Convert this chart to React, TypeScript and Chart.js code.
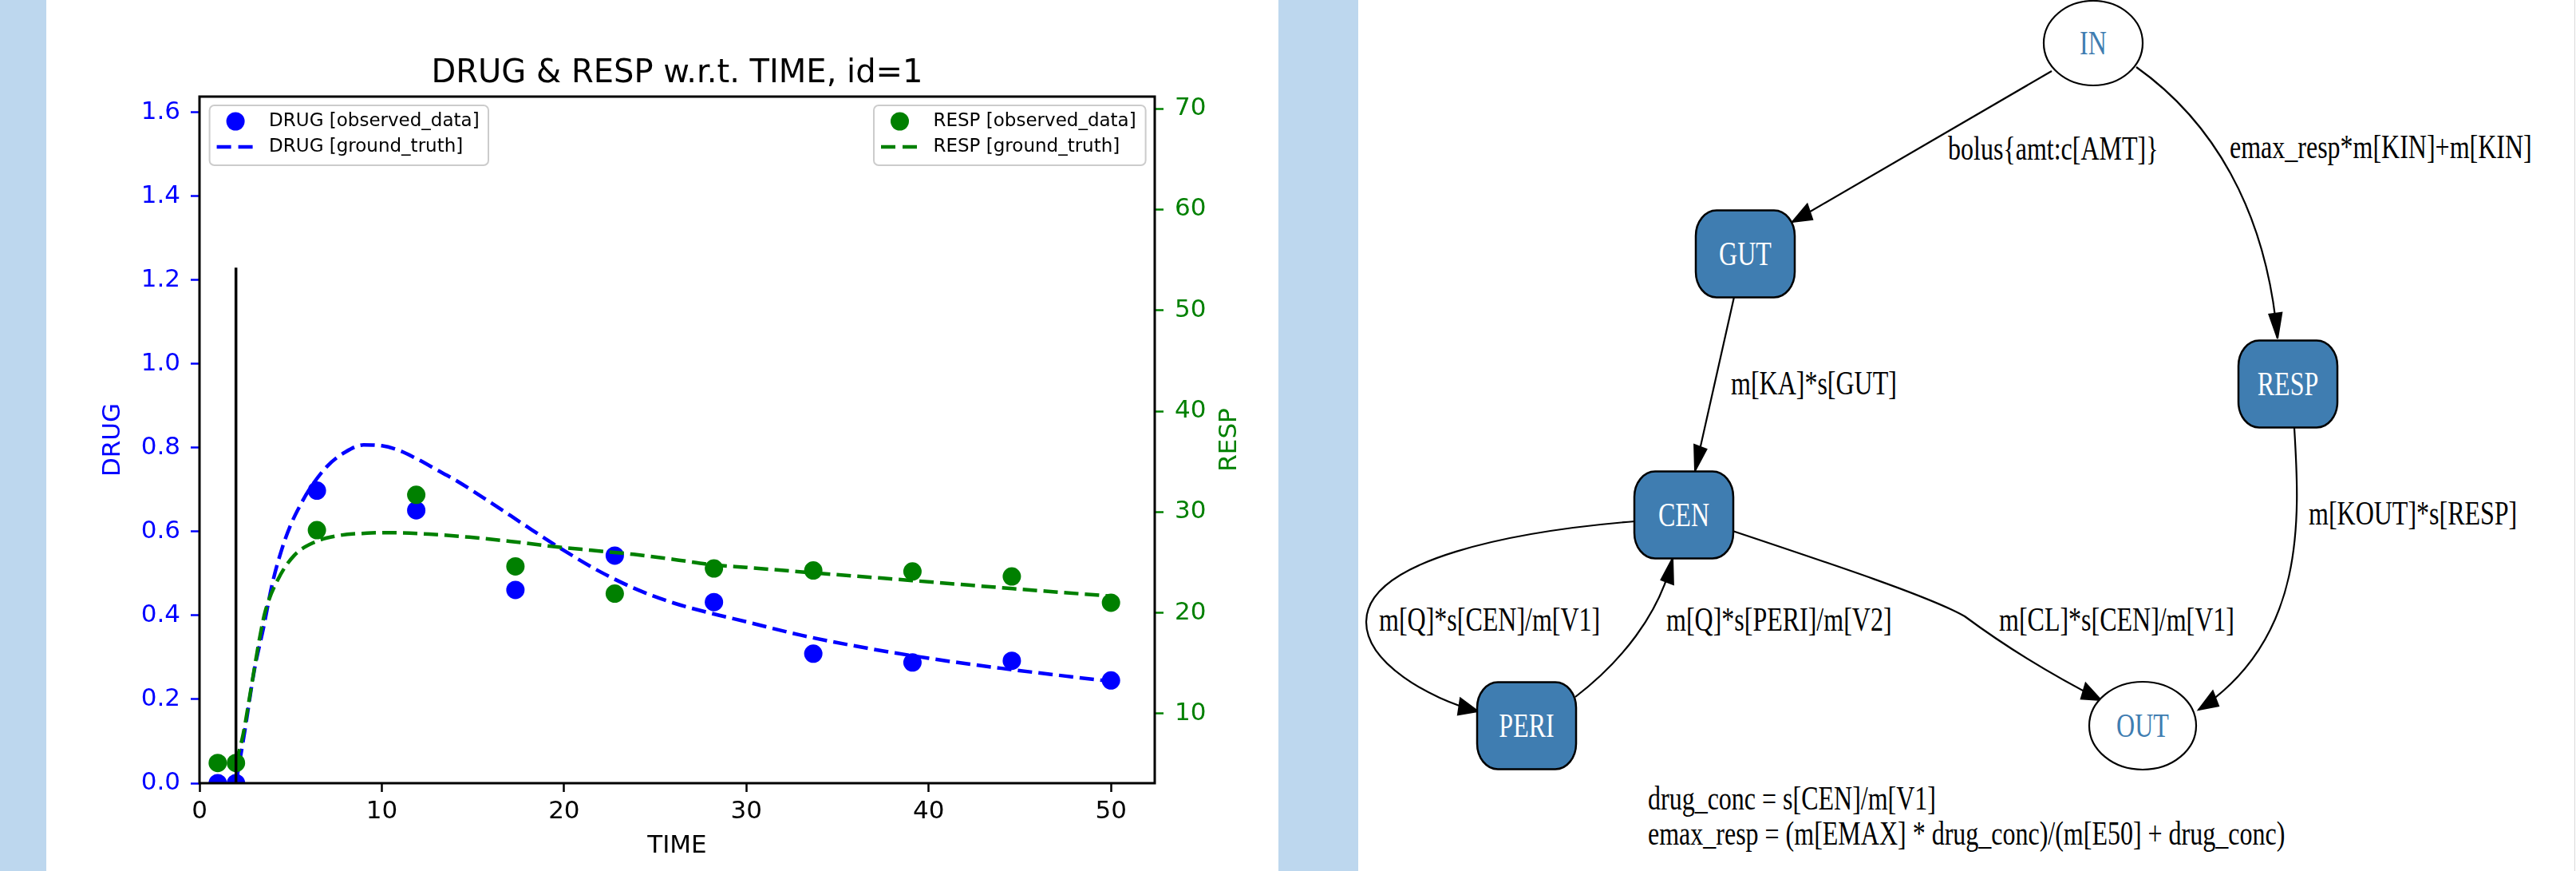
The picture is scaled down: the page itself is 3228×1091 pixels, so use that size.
import React, { useEffect, useRef } from 'react';
import { Chart, registerables } from 'chart.js';

Chart.register(...registerables);

// ---------------- chart data ----------------
const TITLE = 'DRUG & RESP w.r.t. TIME, id=1';
const X_LABEL = 'TIME';
const Y_LABEL = 'DRUG';
const Y2_LABEL = 'RESP';

const timeObs = [1, 2, 6.44, 11.89, 17.33, 22.78, 28.22, 33.67, 39.11, 44.56, 50];
const drugObs = [0.0, 0.0, 0.698, 0.651, 0.461, 0.543, 0.432, 0.309, 0.288, 0.292, 0.245];
const respObs = [5.1, 5.1, 28.2, 31.7, 24.6, 21.9, 24.4, 24.2, 24.1, 23.6, 21.0];

const drugTime = [2, 2.5, 3, 3.5, 4, 4.5, 5, 5.5, 6, 7, 8, 9, 10, 11, 12, 13, 14, 16, 18, 20, 22, 24, 26, 28, 30, 33, 36, 40, 44, 48, 50];
const drugTruth = [0, 0.129, 0.268, 0.369, 0.477, 0.556, 0.616, 0.661, 0.699, 0.756, 0.79, 0.807, 0.805, 0.793, 0.772, 0.748, 0.724, 0.669, 0.611, 0.555, 0.504, 0.462, 0.43, 0.406, 0.385, 0.353, 0.327, 0.298, 0.274, 0.253, 0.243];

const respTime = [2, 2.4, 2.8, 3.3, 3.6, 4.3, 5.2, 6.3, 7.6, 9.2, 10.3, 12.6, 14.8, 17, 19.3, 21.5, 23.8, 26, 28.2, 30, 33.7, 39.1, 44.6, 50];
const respTruth = [5.1, 8.0, 12.2, 17.5, 20.1, 23.3, 25.7, 27.0, 27.65, 27.9, 27.95, 27.8, 27.5, 27.1, 26.6, 26.2, 25.8, 25.3, 24.75, 24.5, 23.96, 23.2, 22.4, 21.65];

const doseTime = [2, 2];
const doseLevel = [0, 1.23];

const legendDrug = ['DRUG [observed_data]', 'DRUG [ground_truth]'];
const legendResp = ['RESP [observed_data]', 'RESP [ground_truth]'];

// ---------------- diagram data ----------------
const nodeLabels = ['IN', 'GUT', 'RESP', 'CEN', 'PERI', 'OUT'];
const edgeLabels = [
  'bolus{amt:c[AMT]}',
  'emax_resp*m[KIN]+m[KIN]',
  'm[KA]*s[GUT]',
  'm[KOUT]*s[RESP]',
  'm[Q]*s[CEN]/m[V1]',
  'm[Q]*s[PERI]/m[V2]',
  'm[CL]*s[CEN]/m[V1]',
];
const noteLines = [
  'drug_conc = s[CEN]/m[V1]',
  'emax_resp = (m[EMAX] * drug_conc)/(m[E50] + drug_conc)',
];

const BAND = '#bdd7ee';
const NODE_FILL = '#3f7db1';
const SY = 1.31;
const FONT = "'DejaVu Sans'";

function zip(xs: number[], ys: number[]) {
  return xs.map((x, i) => ({ x, y: ys[i] }));
}

function drawLegend(ctx: CanvasRenderingContext2D, x0: number, y0: number, w: number, h: number, color: string, labels: string[]) {
  ctx.save();
  ctx.beginPath();
  (ctx as any).roundRect(x0, y0, w, h, 6);
  ctx.fillStyle = 'rgba(255,255,255,0.8)';
  ctx.fill();
  ctx.strokeStyle = '#cccccc';
  ctx.lineWidth = 2;
  ctx.stroke();
  ctx.fillStyle = color;
  ctx.beginPath();
  ctx.arc(x0 + 32.5, y0 + 20, 11.5, 0, Math.PI * 2);
  ctx.fill();
  ctx.strokeStyle = color;
  ctx.lineWidth = 4.5;
  ctx.setLineDash([18, 9]);
  ctx.beginPath();
  ctx.moveTo(x0 + 9, y0 + 52);
  ctx.lineTo(x0 + 55, y0 + 52);
  ctx.stroke();
  ctx.setLineDash([]);
  ctx.fillStyle = '#000';
  ctx.font = `23px ${FONT}`;
  ctx.textAlign = 'left';
  ctx.textBaseline = 'middle';
  ctx.fillText(labels[0], x0 + 74.5, y0 + 20);
  ctx.fillText(labels[1], x0 + 74.5, y0 + 52);
  ctx.restore();
}

const decorPlugin = {
  id: 'decor',
  afterDraw(chart: any) {
    const ctx: CanvasRenderingContext2D = chart.ctx;
    const a = chart.chartArea;
    ctx.save();
    ctx.strokeStyle = '#000';
    ctx.lineWidth = 3;
    ctx.strokeRect(a.left, a.top, a.right - a.left, a.bottom - a.top);
    ctx.fillStyle = '#000';
    ctx.font = `40px ${FONT}`;
    ctx.textAlign = 'center';
    ctx.textBaseline = 'alphabetic';
    ctx.fillText(TITLE, (a.left + a.right) / 2, 103);
    const y2 = chart.scales.y2;
    ctx.translate(y2.right - 61, (a.top + a.bottom) / 2);
    ctx.rotate(-Math.PI / 2);
    ctx.fillStyle = 'green';
    ctx.font = `31px ${FONT}`;
    ctx.textBaseline = 'middle';
    ctx.fillText(Y2_LABEL, 0, 0);
    ctx.restore();
    drawLegend(ctx, a.left + 12.6, a.top + 11, 349.4, 75, 'blue', legendDrug);
    drawLegend(ctx, a.right - 352, a.top + 11, 340.6, 75, 'green', legendResp);
  },
};

function ChartPanel() {
  const ref = useRef<HTMLCanvasElement>(null);
  useEffect(() => {
    Chart.defaults.font.family = FONT;
    const chart = new Chart(ref.current as HTMLCanvasElement, {
      type: 'line',
      data: {
        datasets: [
          { data: zip(doseTime, doseLevel), yAxisID: 'y', borderColor: '#000', borderWidth: 3.5, pointRadius: 0, tension: 0, order: 0, clip: 0 } as any,
          { data: zip(respTime, respTruth), yAxisID: 'y2', borderColor: 'green', borderWidth: 4.5, borderDash: [18, 8], pointRadius: 0, cubicInterpolationMode: 'monotone', order: 1, clip: 0 } as any,
          { data: zip(timeObs, respObs), yAxisID: 'y2', showLine: false, borderWidth: 0, pointRadius: 11.5, pointBorderWidth: 0, pointBackgroundColor: 'green', pointBorderColor: 'green', order: 2, clip: 0 } as any,
          { data: zip(drugTime, drugTruth), yAxisID: 'y', borderColor: 'blue', borderWidth: 4.5, borderDash: [18, 8], pointRadius: 0, cubicInterpolationMode: 'monotone', order: 3, clip: 0 } as any,
          { data: zip(timeObs, drugObs), yAxisID: 'y', showLine: false, borderWidth: 0, pointRadius: 11.5, pointBorderWidth: 0, pointBackgroundColor: 'blue', pointBorderColor: 'blue', order: 4, clip: 0 } as any,
        ],
      },
      options: {
        animation: false,
        responsive: true,
        maintainAspectRatio: false,
        devicePixelRatio: 1,
        layout: { padding: { top: 121, left: 0, right: 0, bottom: 0 } },
        plugins: { legend: { display: false }, tooltip: { enabled: false }, title: { display: false } },
        events: [],
        scales: {
          x: {
            type: 'linear', position: 'bottom', min: 0, max: 52.4,
            ticks: { stepSize: 10, includeBounds: false, color: '#000', font: { size: 31 }, padding: 6, maxRotation: 0, autoSkip: false },
            grid: { display: true, drawOnChartArea: false, drawTicks: true, tickLength: 11, tickColor: '#000', tickWidth: 2.5 },
            border: { display: false },
            title: { display: true, text: X_LABEL, color: '#000', font: { size: 31 }, padding: { top: 0, bottom: 12 } },
            afterFit: (s: any) => { s.height = 110; },
          },
          y: {
            type: 'linear', position: 'left', min: 0, max: 1.638,
            ticks: { stepSize: 0.2, includeBounds: false, color: 'blue', font: { size: 31 }, padding: 13, callback: (v: any) => Number(v).toFixed(1) },
            grid: { display: true, drawOnChartArea: false, drawTicks: true, tickLength: 11, tickColor: 'blue', tickWidth: 2.5 },
            border: { display: false },
            title: { display: true, text: Y_LABEL, color: 'blue', font: { size: 31 }, padding: { top: 65, bottom: 0 } },
            afterFit: (s: any) => { s.width = 192; },
          },
          y2: {
            type: 'linear', position: 'right', min: 3.1, max: 71.2,
            ticks: { stepSize: 10, includeBounds: false, color: 'green', font: { size: 31 }, padding: 14 },
            grid: { display: true, drawOnChartArea: false, drawTicks: true, tickLength: 11, tickColor: 'green', tickWidth: 2.5 },
            border: { display: false },
            afterFit: (s: any) => { s.width = 155; },
          },
        },
      } as any,
      plugins: [decorPlugin],
    });
    return () => chart.destroy();
  }, []);
  return (
    <div style={{ position: 'absolute', left: 58, top: 0, width: 1544, height: 1091, background: '#fff' }}>
      <canvas ref={ref} />
    </div>
  );
}

// ---------------- diagram ----------------
type P = [number, number];

function arrowHead(tip: P, from: P, key: string) {
  const dx = tip[0] - from[0];
  const dy = (tip[1] - from[1]) / SY;
  const len = Math.hypot(dx, dy) || 1;
  const ux = dx / len, uy = dy / len;
  const L = 24, W = 8;
  const bx = -ux * L, by = -uy * L;
  const p1: P = [tip[0] + bx - uy * W, tip[1] + (by + ux * W) * SY];
  const p2: P = [tip[0] + bx + uy * W, tip[1] + (by - ux * W) * SY];
  return <polygon key={key} points={`${tip[0]},${tip[1]} ${p1[0]},${p1[1]} ${p2[0]},${p2[1]}`} fill="#000" stroke="#000" strokeWidth={2} />;
}

function Label({ x, y, text, anchor = 'start', fill = '#000' }: { x: number; y: number; text: string; anchor?: string; fill?: string }) {
  return (
    <text x={0} y={0} transform={`translate(${x} ${y}) scale(1 ${SY})`} fontFamily="'Liberation Serif', serif" fontSize={32} textAnchor={anchor as any} fill={fill}>
      {text}
    </text>
  );
}

function Box({ cx, cy, label }: { cx: number; cy: number; label: string }) {
  const w = 124, h = 109;
  return (
    <g>
      <rect x={cx - w / 2} y={cy - h / 2} width={w} height={h} rx={26} ry={32} fill={NODE_FILL} stroke="#000" strokeWidth={2.5} />
      <Label x={cx} y={cy + 14} text={label} anchor="middle" fill="#fff" />
    </g>
  );
}

function Oval({ cx, cy, rx, ry, label }: { cx: number; cy: number; rx: number; ry: number; label: string }) {
  return (
    <g>
      <ellipse cx={cx} cy={cy} rx={rx} ry={ry} fill="#fff" stroke="#000" strokeWidth={2.2} />
      <Label x={cx} y={cy + 14} text={label} anchor="middle" fill={NODE_FILL} />
    </g>
  );
}

function Diagram() {
  const edges: { d: string; tip: P; from: P }[] = [
    { d: 'M 2571 89 L 2246 278', tip: [2246, 278], from: [2571, 89] },
    { d: 'M 2677 84 C 2770 150, 2840 260, 2854 424', tip: [2854, 424], from: [2840, 260] },
    { d: 'M 2173 372 L 2124 590', tip: [2124, 590], from: [2173, 372] },
    { d: 'M 2875 536 C 2882 650, 2890 800, 2755 889', tip: [2755, 889], from: [2890, 800] },
    { d: 'M 2049 653 C 1900 665, 1712 700, 1712 779 C 1712 830, 1790 875, 1852 891', tip: [1852, 891], from: [1790, 875] },
    { d: 'M 1974 873 C 2030 830, 2080 770, 2096 699', tip: [2096, 699], from: [2080, 770] },
    { d: 'M 2171 665 C 2300 708, 2420 748, 2462 772 C 2520 815, 2580 850, 2633 877', tip: [2633, 877], from: [2580, 850] },
  ];
  const labelPos: P[] = [
    [2441, 200], [2794, 198], [2169, 494], [2893, 657], [1728, 790], [2088, 790], [2505, 790],
  ];
  return (
    <svg style={{ position: 'absolute', left: 1702, top: 0 }} width={1526} height={1091} viewBox="1702 0 1526 1091">
      {edges.map((e, i) => (
        <path key={'e' + i} d={e.d} fill="none" stroke="#000" strokeWidth={2.2} />
      ))}
      {edges.map((e, i) => arrowHead(e.tip, e.from, 'a' + i))}
      <Oval cx={2623} cy={54} rx={62} ry={53} label={nodeLabels[0]} />
      <Box cx={2187} cy={318} label={nodeLabels[1]} />
      <Box cx={2867} cy={481} label={nodeLabels[2]} />
      <Box cx={2110} cy={645} label={nodeLabels[3]} />
      <Box cx={1913} cy={909} label={nodeLabels[4]} />
      <Oval cx={2685} cy={909} rx={67} ry={55} label={nodeLabels[5]} />
      {edgeLabels.map((t, i) => (
        <Label key={'l' + i} x={labelPos[i][0]} y={labelPos[i][1]} text={t} />
      ))}
      <Label x={2065} y={1014} text={noteLines[0]} />
      <Label x={2065} y={1058} text={noteLines[1]} />
    </svg>
  );
}

export default function App() {
  return (
    <div style={{ position: 'absolute', left: 0, top: 0, width: 3228, height: 1091, background: '#fff', overflow: 'hidden' }}>
      <div style={{ position: 'absolute', left: 0, top: 0, width: 58, height: 1091, background: BAND }} />
      <div style={{ position: 'absolute', left: 1602, top: 0, width: 100, height: 1091, background: BAND }} />
      <div style={{ position: 'absolute', left: 3226, top: 0, width: 1, height: 1091, background: '#d9d9d9' }} />
      <ChartPanel />
      <Diagram />
    </div>
  );
}
